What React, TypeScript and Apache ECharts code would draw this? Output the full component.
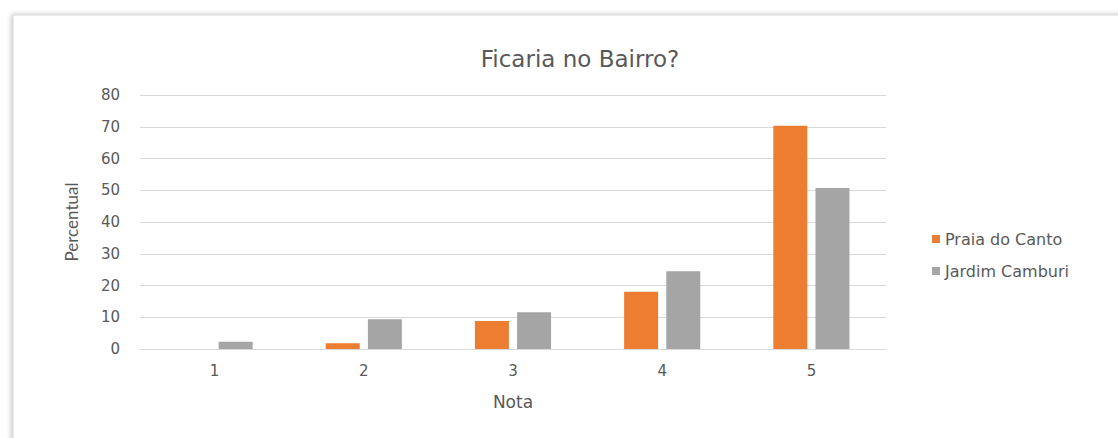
import React, { useEffect, useRef } from "react";
import * as echarts from "echarts";

const categories = ["1", "2", "3", "4", "5"];
const praiaDoCanto = [0, 1.8, 8.8, 18, 70.3];
const jardimCamburi = [2.3, 9.4, 11.6, 24.5, 50.7];
const seriesNames = ["Praia do Canto", "Jardim Camburi"];
const titleText = "Ficaria no Bairro?";
const xName = "Nota";
const yName = "Percentual";

const FONT = "'DejaVu Sans', 'Open Sans', sans-serif";
const NARROW = "Lato, 'Open Sans', sans-serif";
const TXT = "#595959";

export default function App() {
  const ref = useRef<HTMLDivElement>(null);
  useEffect(() => {
    if (!ref.current) return;
    const chart = echarts.init(ref.current, undefined, { renderer: "svg" });
    chart.setOption({
      animation: false,
      backgroundColor: "#ffffff",
      textStyle: { fontFamily: FONT },
      graphic: [
        {
          type: "rect",
          z: -10,
          silent: true,
          shape: { x: 13, y: 15, width: 1200, height: 500 },
          style: {
            fill: "#ffffff",
            stroke: "#d4d4d4",
            lineWidth: 1,
            shadowBlur: 5,
            shadowColor: "rgba(0,0,0,0.25)",
            shadowOffsetX: -1,
            shadowOffsetY: 0,
          },
        },
      ],
      title: {
        text: titleText,
        left: 575,
        textAlign: "center",
        top: 42,
        textStyle: { fontFamily: FONT, fontSize: 23, fontWeight: "normal", color: TXT },
      },
      legend: {
        orient: "vertical",
        left: 927,
        top: 225,
        icon: "rect",
        itemWidth: 8,
        itemHeight: 8,
        itemGap: 14,
        textStyle: { fontFamily: FONT, fontSize: 16, color: TXT, lineHeight: 18 },
        data: seriesNames,
      },
      grid: { left: 140, right: 232, top: 95, bottom: 89, containLabel: false },
      xAxis: {
        type: "category",
        data: categories,
        name: xName,
        nameLocation: "middle",
        nameGap: 44,
        nameTextStyle: { fontFamily: FONT, fontSize: 17, color: TXT },
        axisLine: { lineStyle: { color: "#d9d9d9", width: 1 } },
        axisTick: { show: false },
        axisLabel: { color: TXT, fontSize: 15, margin: 14, fontFamily: FONT },
      },
      yAxis: {
        type: "value",
        min: 0,
        max: 80,
        interval: 10,
        name: yName,
        nameLocation: "middle",
        nameGap: 60,
        nameTextStyle: { fontFamily: NARROW, fontSize: 17, color: TXT },
        axisLine: { show: false },
        axisTick: { show: false },
        axisLabel: { color: TXT, fontSize: 15, margin: 20, fontFamily: FONT },
        splitLine: { lineStyle: { color: "#d9d9d9", width: 1 } },
      },
      series: [
        {
          name: seriesNames[0],
          type: "bar",
          data: praiaDoCanto,
          barWidth: 34,
          barGap: "24%",
          itemStyle: { color: "#ED7D31" },
        },
        {
          name: seriesNames[1],
          type: "bar",
          data: jardimCamburi,
          barWidth: 34,
          barGap: "24%",
          itemStyle: { color: "#A5A5A5" },
        },
      ],
    });
    return () => chart.dispose();
  }, []);
  return (
    <div style={{ position: "fixed", left: 0, top: 0, width: 1118, height: 438, background: "#fff" }}>
      <div ref={ref} style={{ width: 1118, height: 438 }} />
    </div>
  );
}
